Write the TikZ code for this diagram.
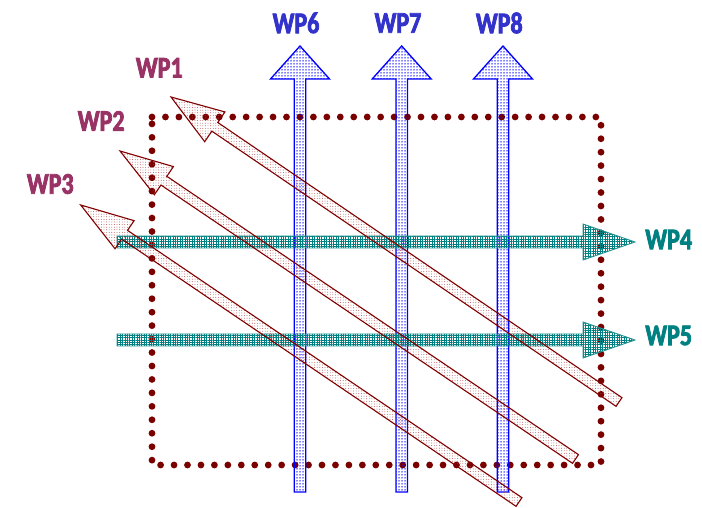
\documentclass[tikz,border=0pt]{standalone}
\usepackage{fontspec}
\newfontfamily\labfont{Carlito Bold}[FakeStretch=0.8, FakeBold=2.6]
\usetikzlibrary{calc,patterns.meta}
\definecolor{wpred}{HTML}{800000}
\definecolor{wpdot}{HTML}{7A0000}
\definecolor{wppurple}{HTML}{993366}
\definecolor{wpblue}{HTML}{3333CC}
\definecolor{wpteal}{HTML}{008080}
\definecolor{wpfillred}{HTML}{B04040}
\newcommand{\bigarr}[5]{%
  \coordinate (#1b) at ($(#1h)!#5!(#1t)$);
  \draw[#2] ($(#1t)!#3!90:(#1h)$) -- ($(#1b)!#3!90:(#1h)$) -- ($(#1b)!#4!90:(#1h)$) -- (#1h)
    -- ($(#1b)!#4!-90:(#1h)$) -- ($(#1b)!#3!-90:(#1h)$) -- ($(#1t)!#3!-90:(#1h)$) -- cycle;}
\tikzset{
  lab/.style={font=\labfont\fontsize{30}{30}\selectfont, inner sep=0pt},
  diagarr/.style={draw=wpred, line width=1.1pt, pattern={Dots[distance=2.6pt, radius=0.45pt]}, pattern color=wpfillred},
  vertarr/.style={draw=blue, line width=1.3pt, pattern={Dots[distance=3pt, radius=0.75pt]}, pattern color=blue},
  horarr/.style={draw=wpteal!85!white, line width=0.9pt, pattern={Hatch[angle=0, distance=2.4pt, line width=0.6pt]}, pattern color=wpteal},
  frame/.style={draw=wpdot, line width=6.8pt, line cap=round, dash pattern=on 0pt off 13.45pt}
}
\begin{document}
\begin{tikzpicture}[x=1pt,y=1pt]
\useasboundingbox (0,0) rectangle (702,508);
% dotted frame
\draw[frame] (152,391) -- (601,391) -- (601,43) -- (152,43) -- cycle;
% vertical arrows
\coordinate (v6t) at (300,16);   \coordinate (v6h) at (300,462);
\coordinate (v7t) at (401.7,16); \coordinate (v7h) at (401.7,462);
\coordinate (v8t) at (503,16);   \coordinate (v8h) at (503,462);
\bigarr{v6}{vertarr}{5.7pt}{29.5pt}{33pt}
\bigarr{v7}{vertarr}{5.7pt}{29.5pt}{33pt}
\bigarr{v8}{vertarr}{5.7pt}{29.5pt}{33pt}
% horizontal arrows
\coordinate (h4t) at (117,266); \coordinate (h4h) at (635,266);
\coordinate (h5t) at (117,168); \coordinate (h5h) at (635,168);
\bigarr{h4}{horarr}{6pt}{18pt}{52pt}
\bigarr{h5}{horarr}{6pt}{18pt}{52pt}
% diagonal arrows
\coordinate (d1t) at (619,106);   \coordinate (d1h) at (171,411);
\coordinate (d2t) at (575.5,49);  \coordinate (d2h) at (120,357);
\coordinate (d3t) at (519,6);     \coordinate (d3h) at (80.7,303);
\bigarr{d1}{diagarr}{5.25pt}{18pt}{53pt}
\bigarr{d2}{diagarr}{5.25pt}{17pt}{53pt}
\bigarr{d3}{diagarr}{5.25pt}{17pt}{53pt}
% labels
\node[lab, text=wppurple] (l1) at (159.3,440.2) {WP1};
\node[lab, text=wppurple] (l2) at (101.2,387) {WP2};
\node[lab, text=wppurple] (l3) at (50.3,324) {WP3};
\node[lab, text=wpteal] (l4) at (668.7,268.5) {WP4};
\node[lab, text=wpteal] (l5) at (668.7,172.5) {WP5};
\node[lab, text=wpblue] (l6) at (296,485) {WP6};
\node[lab, text=wpblue] (l7) at (398,485) {WP7};
\node[lab, text=wpblue] (l8) at (499.3,485) {WP8};
\end{tikzpicture}
\end{document}
